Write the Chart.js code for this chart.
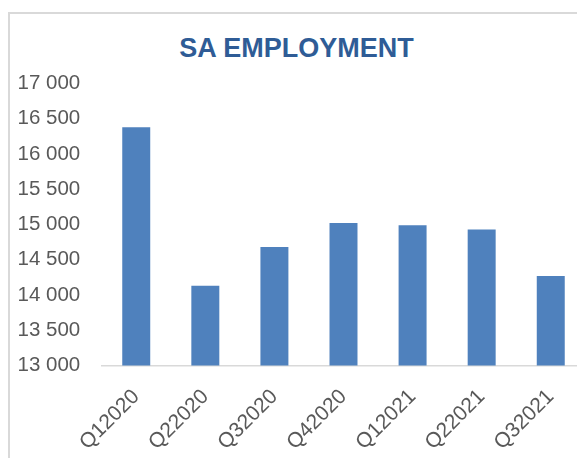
<!DOCTYPE html>
<html><head><meta charset="utf-8">
<script src="https://cdn.jsdelivr.net/npm/chart.js@4"></script>
<style>
html,body{margin:0;padding:0;width:577px;height:458px;overflow:hidden;background:#fff;}
#frame{position:absolute;left:8px;top:12px;width:800px;height:700px;border:2px solid #d9d9d9;box-sizing:border-box;}
#title{position:absolute;left:0;width:593px;top:33px;text-align:center;font:bold 27px "Liberation Sans",Arial,sans-serif;color:#2F5C96;line-height:30px;white-space:nowrap;}
#wrap{position:absolute;left:0;top:0;width:620px;height:458px;}
</style></head>
<body>
<div id="frame"></div>
<div id="title">SA EMPLOYMENT</div>
<div id="wrap"><canvas id="c" width="620" height="458"></canvas></div>
<script>
const categories = ["Q12020","Q22020","Q32020","Q42020","Q12021","Q22021","Q32021"];
const employment = [16380, 14130, 14680, 15020, 14990, 14930, 14270];
const yTicks = [13000,13500,14000,14500,15000,15500,16000,16500,17000];

const fmt = v => String(v).replace(/\B(?=(\d{3})+(?!\d))/g, " ");

new Chart(document.getElementById("c"), {
  type: "bar",
  data: { labels: categories, datasets: [{ data: employment, backgroundColor: "#4F81BD", borderWidth: 0, barPercentage: 0.405, categoryPercentage: 1 }] },
  options: {
    responsive: false, animation: false,
    layout: { padding: { left: 0, right: 34.7, top: 83.5, bottom: 0 } },
    plugins: { legend: { display: false }, tooltip: { enabled: false }, title: { display: false } },
    scales: {
      y: {
        min: 13000, max: 17000,
        afterFit: s => { s.width = 101.7; },
        afterBuildTicks: s => { s.ticks = yTicks.map(v => ({ value: v })); },
        grid: { display: false, drawTicks: false },
        border: { display: false },
        ticks: { padding: 21.5, color: "#595959", font: { family: "Liberation Sans", size: 20.5 }, callback: v => fmt(v) }
      },
      x: {
        afterFit: s => { s.height = 92.5; },
        grid: { display: false, drawTicks: false },
        border: { display: true, color: "#d9d9d9", width: 1.5 },
        ticks: { minRotation: 45, maxRotation: 45, padding: 19, color: "#595959", font: { family: "Liberation Sans", size: 21 } }
      }
    }
  }
});
</script>
</body></html>
